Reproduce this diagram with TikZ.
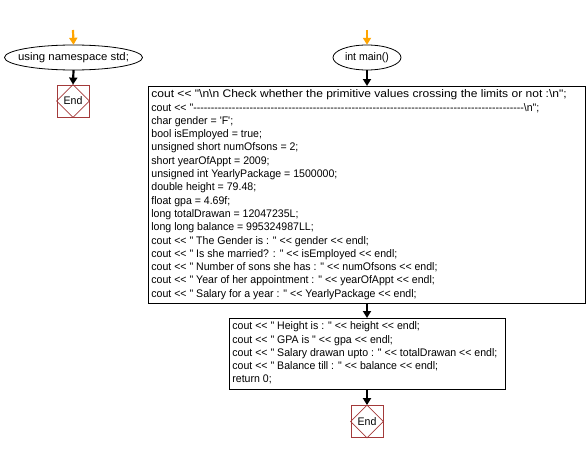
\documentclass[tikz,border=0pt]{standalone}
\usepackage{fontspec}
\usepackage{graphicx}
\setmainfont{Liberation Sans}[Ligatures=TeXOff,FakeStretch=0.96]
\usetikzlibrary{shapes.geometric,arrows.meta}
\definecolor{endred}{HTML}{A33A3A}
\definecolor{startor}{HTML}{FFA500}
\begin{document}
\begin{tikzpicture}[x=1pt,y=-1pt,
  font=\fontsize{11}{13.3}\selectfont,
  term/.style={inner sep=0pt,minimum height=25pt},
  code/.style={draw,line width=0.8pt,anchor=north west,inner xsep=3pt,inner ysep=2pt},
  endbox/.style={draw=endred,line width=0.8pt,minimum size=32pt,inner sep=0pt},
  flow/.style={line width=2.2pt,-{Triangle[length=7pt,width=8pt]}},
  startflow/.style={flow,draw=startor}]
\useasboundingbox (0,0) rectangle (586,452);
% left column
\coordinate (s1) at (73,30);
\node[term,minimum width=138pt] (ns) at (73.5,57.5) {\scalebox{1.08}[1]{using namespace std;}};
\draw[line width=0.8pt] (ns.center) ellipse (69 and 12.5);
\node[endbox] (e1) at (73,101) {};
\draw[endred,line width=0.6pt] (e1.north) -- (e1.east) -- (e1.south) -- (e1.west) -- cycle;
\node at (e1) {End};
\draw[startflow] (s1) -- (ns.north);
\draw[flow] (ns.south) -- (e1.north);
% right column
\coordinate (s2) at (367,30);
\node[term,minimum width=68pt] (mn) at (367,57.5) {int main()};
\draw[line width=0.8pt] (mn.center) ellipse (34 and 12.5);
\node[code] (b1) at (148,86) {\makebox[431pt][l]{\begin{tabular}{@{}l@{}}\scalebox{1.14}[1]{cout << "\textbackslash n\textbackslash n Check whether the primitive values crossing the limits or not :\textbackslash n";}\\
cout << "----------------------------------------------------------------------------------------------\textbackslash n";\\
char gender = 'F';\\
bool isEmployed = true;\\
unsigned short numOfsons = 2;\\
short yearOfAppt = 2009;\\
unsigned int YearlyPackage = 1500000;\\
double height = 79.48;\\
float gpa = 4.69f;\\
long totalDrawan = 12047235L;\\
long long balance = 995324987LL;\\
cout << " The Gender is : " << gender << endl;\\
cout << " Is she married? : " << isEmployed << endl;\\
cout << " Number of sons she has : " << numOfsons << endl;\\
cout << " Year of her appointment : " << yearOfAppt << endl;\\
cout << " Salary for a year : " << YearlyPackage << endl;\end{tabular}}};
\node[code] (b2) at (229,318) {\makebox[270pt][l]{\begin{tabular}{@{}l@{}}cout << " Height is : " << height << endl;\\
cout << " GPA is " << gpa << endl;\\
cout << " Salary drawan upto : " << totalDrawan << endl;\\
cout << " Balance till : " << balance << endl;\\
return 0;\end{tabular}}};
\node[endbox] (e2) at (367,421.5) {};
\draw[endred,line width=0.6pt] (e2.north) -- (e2.east) -- (e2.south) -- (e2.west) -- cycle;
\node at (e2) {End};
\draw[startflow] (s2) -- (mn.north);
\draw[flow] (mn.south) -- (mn.south |- b1.north);
\draw[flow] (mn.south |- b1.south) -- (mn.south |- b2.north);
\draw[flow] (mn.south |- b2.south) -- (e2.north);
\end{tikzpicture}
\end{document}
